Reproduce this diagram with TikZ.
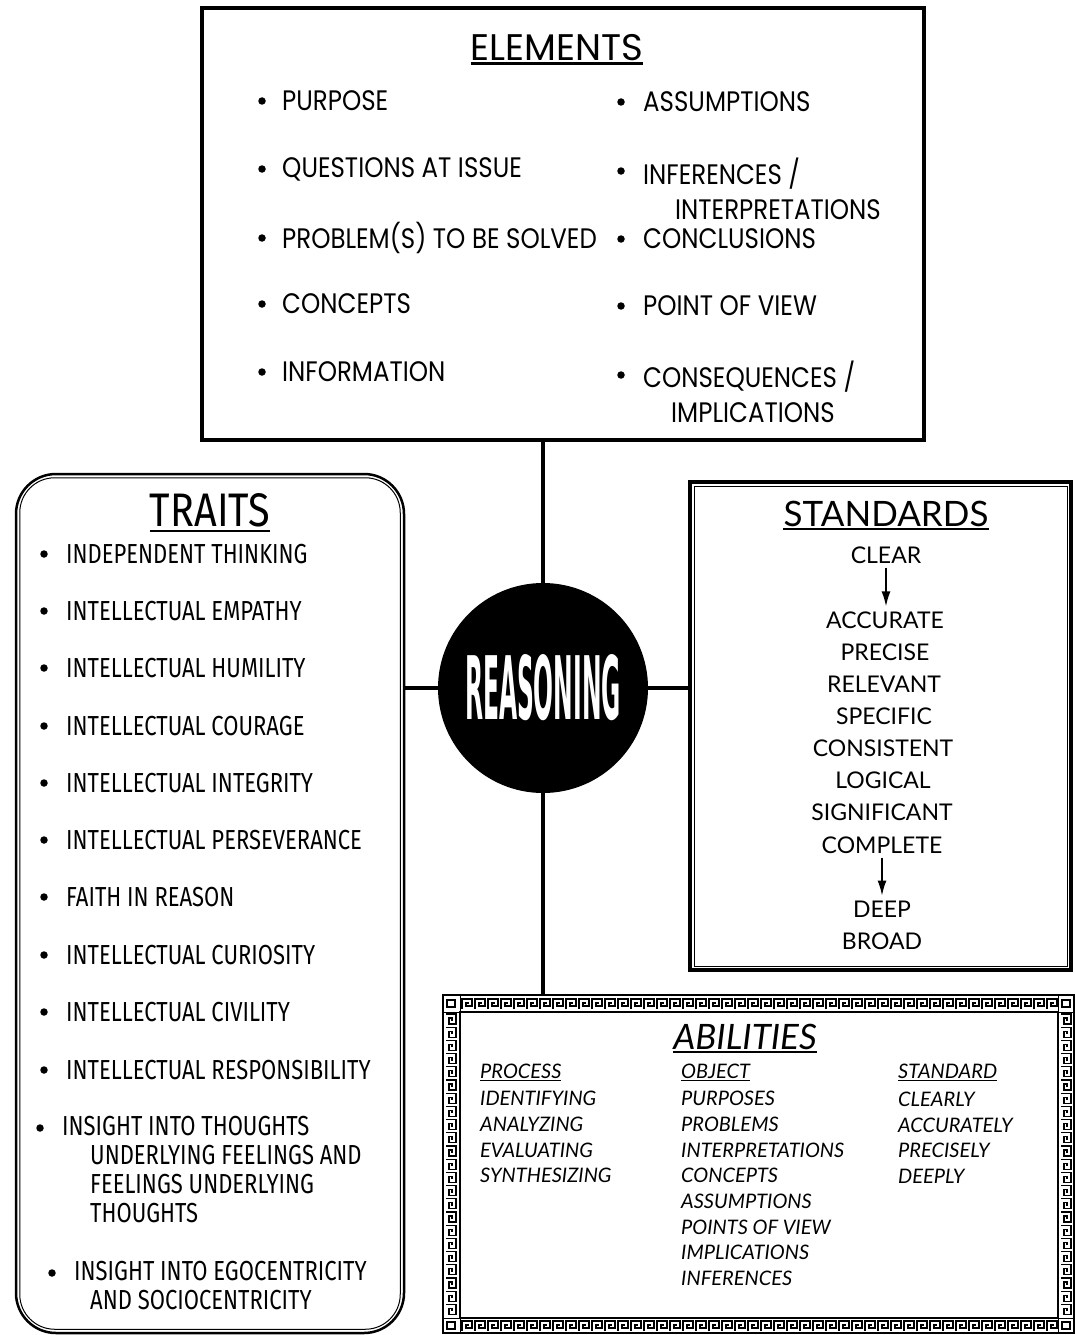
\documentclass[tikz,border=0pt]{standalone}
\usepackage{fontspec}
\usepackage{graphicx}
\usetikzlibrary{arrows.meta,calc}
\newfontfamily\elemfont{Poppins}
\newfontfamily\traitfont{Fira Sans}
\newfontfamily\stdfont{Lato}
\newfontfamily\reasfont{DejaVu Sans}
\begin{document}
\begin{tikzpicture}[x=1pt,y=-1pt,
  bul/.style={circle,fill=black,inner sep=0,minimum size=7.5pt},
  elemtxt/.style={anchor=west,inner sep=0,yscale=1.15,font=\elemfont\fontsize{24.5}{30}\selectfont,align=left},
  traittxt/.style={anchor=west,inner sep=0,yscale=1.25,font=\traitfont\fontsize{22}{23.2}\selectfont,align=left},
  stdtxt/.style={inner sep=0,font=\stdfont\fontsize{23}{28}\selectfont},
  abiltxt/.style={anchor=west,inner sep=0,font=\stdfont\itshape\fontsize{20}{24}\selectfont},
  conn/.style={line width=4pt},
  stdarrow/.style={line width=1.6pt,-{Latex[length=15pt,width=9pt]}},
  keyline/.style={line width=1.3pt},
  uline/.style={line width=2.5pt}
]
\useasboundingbox (0,0) rectangle (1074,1335);
\fill[white] (0,0) rectangle (1074,1335);

% ---------- ELEMENTS ----------
\node[draw,line width=4pt,minimum width=722pt,minimum height=432pt,inner sep=0] (elements) at (563,224) {};
\node[inner sep=0,font=\elemfont\fontsize{37}{40}\selectfont] (eltitle) at (557,48) {ELEMENTS};
\draw[uline] ([yshift=-2pt]eltitle.south west) -- ([yshift=-2pt]eltitle.south east);
\node[bul] (eb1) at (262,101) {}; \node[elemtxt] (e1) at (282,101) {PURPOSE};
\node[bul] (eb2) at (262,169) {}; \node[elemtxt] (e2) at (282,169) {QUESTIONS AT ISSUE};
\node[bul] (eb3) at (262,238) {}; \node[elemtxt] (e3) at (282,238) {PROBLEM(S) TO BE SOLVED};
\node[bul] (eb4) at (262,304) {}; \node[elemtxt] (e4) at (282,304) {CONCEPTS};
\node[bul] (eb5) at (262,372) {}; \node[elemtxt] (e5) at (282,372) {INFORMATION};
\node[bul] (eb6) at (621,102) {}; \node[elemtxt] (e6) at (643,102) {ASSUMPTIONS};
\node[bul] (eb7) at (621,171) {}; \node[elemtxt,anchor=north west] (e7) at (643,158) {INFERENCES /\\\hspace*{32pt}INTERPRETATIONS};
\node[bul] (eb8) at (621,239) {}; \node[elemtxt] (e8) at (643,239) {CONCLUSIONS};
\node[bul] (eb9) at (621,306) {}; \node[elemtxt] (e9) at (643,306) {POINT OF VIEW};
\node[bul] (eb10) at (621,375) {}; \node[elemtxt,anchor=north west] (e10) at (643,361) {CONSEQUENCES /\\\hspace*{28pt}IMPLICATIONS};

% ---------- REASONING ----------
\node[circle,fill=black,minimum size=210pt,inner sep=0] (reason) at (543,688) {};
\node[inner sep=0,text=white,font=\reasfont\bfseries] (reastxt) at (543,688) {\resizebox{156pt}{65pt}{REASONING}};

% ---------- TRAITS ----------
\node[draw,line width=2.5pt,rounded corners=40pt,minimum width=388pt,minimum height=859pt,inner sep=0] (traits) at (210,903.5) {};
\draw[line width=1pt,rounded corners=35pt] ([shift={(5,5)}]traits.north west) rectangle ([shift={(-5,-5)}]traits.south east);
\node[inner sep=0,font=\traitfont\fontsize{40}{44}\selectfont] (trtitle) at (210,510) {\resizebox{120pt}{33pt}{TRAITS}};
\draw[uline] ([yshift=-4pt]trtitle.south west) -- ([yshift=-4pt]trtitle.south east);
\node[bul] (tb1) at (44,554) {}; \node[traittxt] (t1) at (66,554) {INDEPENDENT THINKING};
\node[bul] (tb2) at (44,611) {}; \node[traittxt] (t2) at (66,611) {INTELLECTUAL EMPATHY};
\node[bul] (tb3) at (44,668) {}; \node[traittxt] (t3) at (66,668) {INTELLECTUAL HUMILITY};
\node[bul] (tb4) at (44,726) {}; \node[traittxt] (t4) at (66,726) {INTELLECTUAL COURAGE};
\node[bul] (tb5) at (44,783) {}; \node[traittxt] (t5) at (66,783) {INTELLECTUAL INTEGRITY};
\node[bul] (tb6) at (44,840) {}; \node[traittxt] (t6) at (66,840) {INTELLECTUAL PERSEVERANCE};
\node[bul] (tb7) at (44,897) {}; \node[traittxt] (t7) at (66,897) {FAITH IN REASON};
\node[bul] (tb8) at (44,955) {}; \node[traittxt] (t8) at (66,955) {INTELLECTUAL CURIOSITY};
\node[bul] (tb9) at (44,1012) {}; \node[traittxt] (t9) at (66,1012) {INTELLECTUAL CIVILITY};
\node[bul] (tb10) at (44,1070) {}; \node[traittxt] (t10) at (66,1070) {INTELLECTUAL RESPONSIBILITY};
\node[bul] (tb11) at (40,1128) {}; \node[traittxt,anchor=north west] (t11) at (62,1116) {INSIGHT INTO THOUGHTS\\\hspace*{28pt}UNDERLYING FEELINGS AND\\\hspace*{28pt}FEELINGS UNDERLYING\\\hspace*{28pt}THOUGHTS};
\node[bul] (tb12) at (52,1273) {}; \node[traittxt,anchor=north west] (t12) at (74,1261) {INSIGHT INTO EGOCENTRICITY\\\hspace*{16pt}AND SOCIOCENTRICITY};

% ---------- STANDARDS ----------
\node[draw,line width=4pt,minimum width=381pt,minimum height=488pt,inner sep=0] (standards) at (880.5,726) {};
\draw[line width=1pt] ([shift={(6,6)}]standards.north west) rectangle ([shift={(-6,-6)}]standards.south east);
\node[inner sep=0,font=\stdfont\fontsize{35}{40}\selectfont] (sttitle) at (886,514) {STANDARDS};
\draw[uline] ([yshift=-2pt]sttitle.south west) -- ([yshift=-2pt]sttitle.south east);
\node[stdtxt] (s1) at (886,555) {CLEAR};
\node[stdtxt] (s2) at (885,620) {ACCURATE};
\node[stdtxt] (s3) at (885,652) {PRECISE};
\node[stdtxt] (s4) at (884,684) {RELEVANT};
\node[stdtxt] (s5) at (884,716) {SPECIFIC};
\node[stdtxt] (s6) at (883,748) {CONSISTENT};
\node[stdtxt] (s7) at (883,780) {LOGICAL};
\node[stdtxt] (s8) at (882,812) {SIGNIFICANT};
\node[stdtxt] (s9) at (882,845) {COMPLETE};
\node[stdtxt] (s10) at (882,909) {DEEP};
\node[stdtxt] (s11) at (882,941) {BROAD};
\draw[stdarrow] ([yshift=-4pt]s1.south) -- ([yshift=5pt]s2.north -| s1.south);
\draw[stdarrow] ([yshift=-4pt]s9.south -| s10.north) -- ([yshift=5pt]s10.north);

% ---------- ABILITIES ----------
\node[draw,line width=2.5pt,minimum width=631pt,minimum height=338pt,inner sep=0] (abilities) at (758.5,1164) {};
\draw[line width=1.8pt] (460,1012) rectangle (1058,1318);
\draw[line width=1pt] (443,1012) -- (1074,1012) (443,1318) -- (1074,1318) (460,996) -- (460,1333) (1058,996) -- (1058,1333);
% corner squares
\foreach \cx/\cy in {443/996,1058/996,443/1318,1058/1318}{
  \draw[keyline] (\cx+4,\cy+4) rectangle (\cx+12,\cy+11);
}
% top and bottom strips
\foreach \i in {0,...,45}{
  \pgfmathsetmacro\xa{461+\i*13}
  \draw[keyline] (\xa+1,1009)--(\xa+1,999)--(\xa+11,999)--(\xa+11,1006)--(\xa+5,1006)--(\xa+5,1003)--(\xa+8,1003);
  \draw[keyline] (\xa+1,1331)--(\xa+1,1321)--(\xa+11,1321)--(\xa+11,1328)--(\xa+5,1328)--(\xa+5,1325)--(\xa+8,1325);
}
% left and right strips
\foreach \j in {0,...,22}{
  \pgfmathsetmacro\ya{1013+\j*13.2}
  \draw[keyline] (446,\ya+1)--(456,\ya+1)--(456,\ya+11)--(449,\ya+11)--(449,\ya+5)--(452,\ya+5)--(452,\ya+8);
  \draw[keyline] (1061,\ya+1)--(1071,\ya+1)--(1071,\ya+11)--(1064,\ya+11)--(1064,\ya+5)--(1067,\ya+5)--(1067,\ya+8);
}
\node[inner sep=0,font=\stdfont\itshape\fontsize{35}{38}\selectfont] (abtitle) at (745,1037) {ABILITIES};
\draw[uline] ([yshift=-2pt]abtitle.south west) -- ([yshift=-2pt]abtitle.south east);
\node[abiltxt] (p0) at (480,1072) {\underline{PROCESS}};
\node[abiltxt] (p1) at (480,1098) {IDENTIFYING};
\node[abiltxt] (p2) at (480,1124) {ANALYZING};
\node[abiltxt] (p3) at (480,1150) {EVALUATING};
\node[abiltxt] (p4) at (480,1175) {SYNTHESIZING};
\node[abiltxt] (o0) at (681,1072) {\underline{OBJECT}};
\node[abiltxt] (o1) at (681,1098) {PURPOSES};
\node[abiltxt] (o2) at (681,1124) {PROBLEMS};
\node[abiltxt] (o3) at (681,1150) {INTERPRETATIONS};
\node[abiltxt] (o4) at (681,1175) {CONCEPTS};
\node[abiltxt] (o5) at (681,1201) {ASSUMPTIONS};
\node[abiltxt] (o6) at (681,1227) {POINTS OF VIEW};
\node[abiltxt] (o7) at (681,1252) {IMPLICATIONS};
\node[abiltxt] (o8) at (681,1278) {INFERENCES};
\node[abiltxt] (q0) at (898,1072) {\underline{STANDARD}};
\node[abiltxt] (q1) at (898,1099) {CLEARLY};
\node[abiltxt] (q2) at (898,1125) {ACCURATELY};
\node[abiltxt] (q3) at (898,1150) {PRECISELY};
\node[abiltxt] (q4) at (898,1176) {DEEPLY};

% ---------- CONNECTORS ----------
\draw[conn] (reason.north |- elements.south) -- (reason.north);
\draw[conn] (reason.west) -- (reason.west -| traits.east);
\draw[conn] (reason.east) -- (reason.east -| standards.west);
\draw[conn] (reason.south) -- (reason.south |- abilities.north);
\end{tikzpicture}
\end{document}
